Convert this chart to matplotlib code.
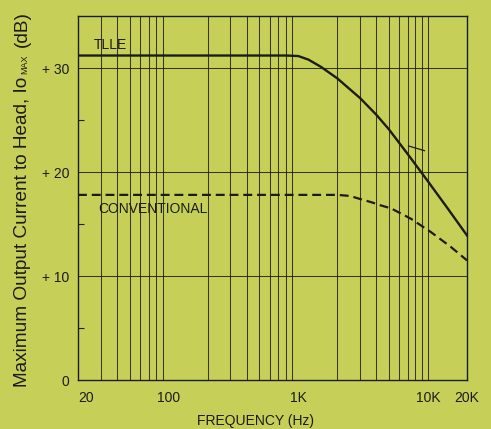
import matplotlib
matplotlib.use('Agg')
import matplotlib.pyplot as plt
from matplotlib.ticker import FixedLocator, NullFormatter

plt.rcParams['font.family'] = ['Liberation Sans', 'DejaVu Sans']

# data (frequency in Hz, level in dB)
tlle_freq = [20, 500, 800, 1000, 1200, 1500, 2000, 3000, 4000, 5000, 7000, 10000, 14000, 20000]
tlle_db = [31.2, 31.2, 31.2, 31.15, 30.8, 30.1, 29.0, 27.1, 25.5, 24.1, 21.7, 19.1, 16.6, 13.9]

conv_freq = [20, 1000, 2000, 2500, 3000, 3650, 4300, 5200, 7400, 10600, 15000, 20000]
conv_db = [17.8, 17.8, 17.8, 17.7, 17.4, 17.1, 16.8, 16.5, 15.5, 14.2, 12.8, 11.5]

# stray pen mark next to the TLLE curve
mark_freq = [7100, 9400]
mark_db = [22.5, 22.05]

x_ticks = [20, 100, 1000, 10000, 20000]
x_labels = ['20', '100', '1K', '10K', '20K']
y_ticks = [0, 10, 20, 30]
y_labels = ['0', '+ 10', '+ 20', '+ 30']
y_minor = [5, 15, 25]

bg = '#c6d058'
ink = '#1c1c16'

# gridline positions: 30..90, 100..900, 1K..10K
grid_freq = [m * d for d in (10, 100, 1000) for m in range(2, 10)][1:] + [10000]

fig = plt.figure(figsize=(4.91, 4.29), dpi=100, facecolor=bg)
ax = fig.add_axes([78 / 491, 49 / 429, 389 / 491, 364 / 429])
ax.set_facecolor(bg)

ax.set_xscale('log')
ax.set_xlim(20, 20000)
ax.set_ylim(0, 35)

for f in grid_freq:
    ax.axvline(f, color=ink, lw=0.75, alpha=0.85, zorder=1)
for v in y_ticks[1:]:
    ax.axhline(v, color=ink, lw=0.75, alpha=0.85, zorder=1)

ax.plot(tlle_freq, tlle_db, color=ink, lw=1.7, zorder=3)
ax.plot(conv_freq, conv_db, color=ink, lw=1.6, dashes=(4, 2.2), zorder=3)
ax.plot(mark_freq, mark_db, color=ink, lw=0.9, zorder=3)

ax.text(26.5, 31.85, 'TLLE', fontsize=10, color=ink, va='baseline', ha='left')
ax.text(28.5, 16.1, 'CONVENTIONAL', fontsize=10, color=ink, va='baseline', ha='left')

ax.xaxis.set_major_locator(FixedLocator(x_ticks))
ax.xaxis.set_minor_locator(FixedLocator([]))
ax.set_xticklabels(x_labels)
ax.xaxis.set_minor_formatter(NullFormatter())
ax.tick_params(axis='x', which='both', length=0, pad=8, labelsize=10, colors=ink)
ax.get_xticklabels()[0].set_horizontalalignment('left')

ax.set_yticks(y_ticks)
ax.set_yticklabels(y_labels)
ax.set_yticks(y_minor, minor=True)
ax.tick_params(axis='y', which='major', length=0, pad=6, labelsize=10, colors=ink)
ax.tick_params(axis='y', which='minor', direction='in', length=4, width=0.8, color=ink)

for s in ax.spines.values():
    s.set_color(ink)
    s.set_linewidth(1.0)

fig.text(256 / 491, 8 / 429, 'FREQUENCY (Hz)', fontsize=10, color=ink, ha='center', va='center')

# y label: small "MAX" set on the baseline between two larger pieces
fig.canvas.draw()
rend = fig.canvas.get_renderer()
xb = 27 / 491
y0 = 42 / 429
parts = [('Maximum Output Current to Head, Io', 13.7, 0.0),
         ('MAX', 6.5, 3.0),
         ('(dB)', 13.7, 7.0)]
ypos = y0
for txt, size, gap in parts:
    ypos += gap / 429
    t = fig.text(xb, ypos, txt, fontsize=size, color=ink, rotation=90,
                 rotation_mode='anchor', ha='left', va='baseline')
    bb = t.get_window_extent(rend)
    ypos += bb.height / 429

fig.savefig('out.png', dpi=100, facecolor=bg)
